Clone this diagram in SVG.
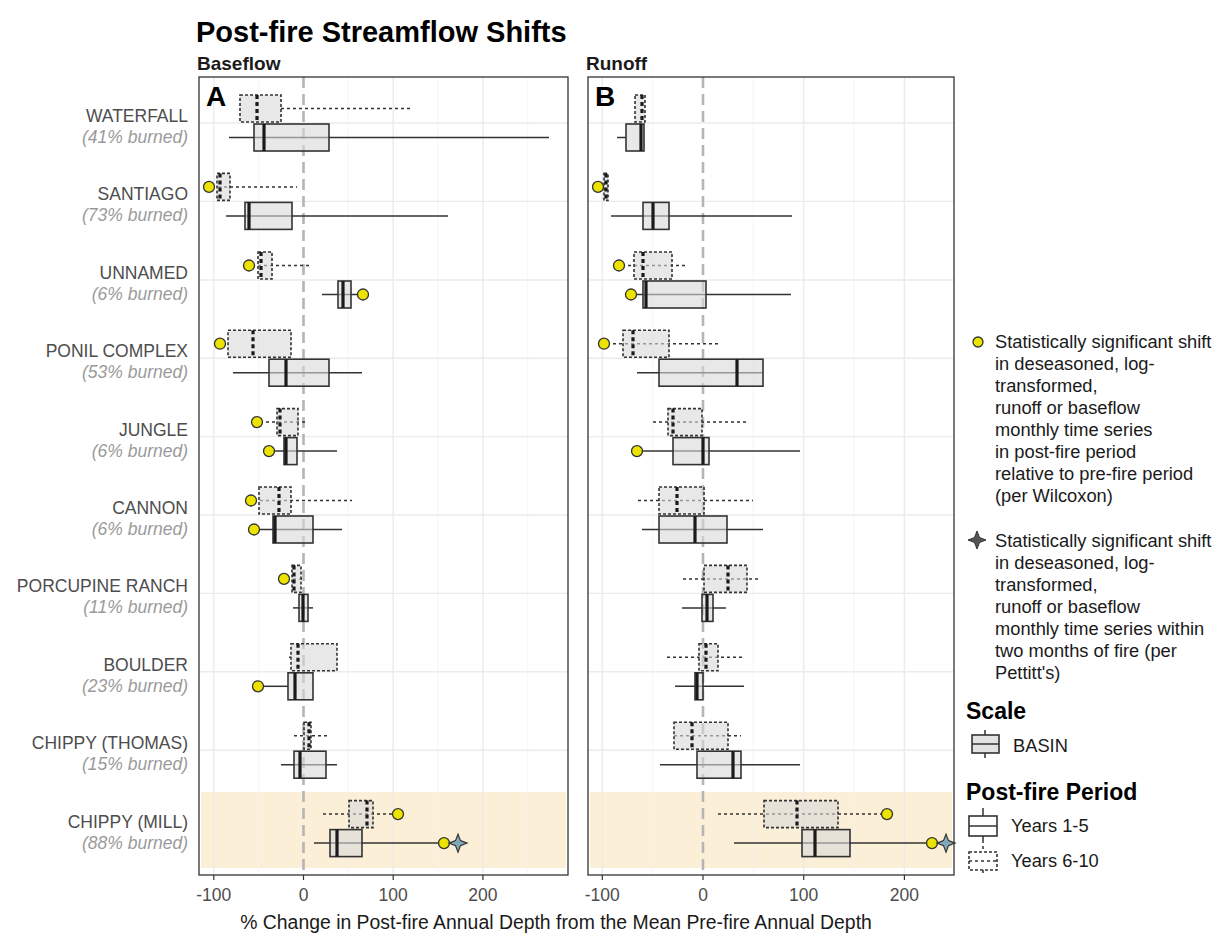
<svg xmlns="http://www.w3.org/2000/svg" width="1222" height="934" viewBox="0 0 1222 934">
<style>
text{font-family:"Liberation Sans",Arial,sans-serif}
.title{font-size:29px;font-weight:bold;fill:#000}
.strip{font-size:19px;font-weight:bold;fill:#1a1a1a}
.plab{font-size:28px;font-weight:bold;fill:#000}
.cat{font-size:17.5px;fill:#4d4d4d;text-anchor:end}
.burn{font-size:17.5px;fill:#9a9a9a;font-style:italic;text-anchor:end}
.tick{font-size:17.5px;fill:#4d4d4d;text-anchor:middle}
.xt{font-size:19.4px;fill:#1a1a1a;text-anchor:middle}
.lg{font-size:18.3px;fill:#1a1a1a}
.lgt{font-size:23px;font-weight:bold;fill:#000}
.frame{fill:none;stroke:#333;stroke-width:1.3}
.gmaj{stroke:#ebebeb;stroke-width:1.4}
.gmin{stroke:#f2f2f2;stroke-width:0.8}
.band{fill:#fcefd7}
.zero{stroke:#b5b5b5;stroke-width:2.6;stroke-dasharray:11 6}
.tk{stroke:#333;stroke-width:1.2}
.bs{fill:#d9d9d9;fill-opacity:0.6;stroke:#333;stroke-width:1.6}
.bd{fill:#d9d9d9;fill-opacity:0.6;stroke:#333;stroke-width:1.6;stroke-dasharray:3 2}
.ws{stroke:#333;stroke-width:1.5}
.wd{stroke:#333;stroke-width:1.5;stroke-dasharray:3 3}
.ms{stroke:#1a1a1a;stroke-width:3.2}
.md{stroke:#1a1a1a;stroke-width:3.2;stroke-dasharray:4 3}
.dot{fill:#ece400;stroke:#333;stroke-width:1.3}
.star{fill:#7fa9b9;stroke:#333;stroke-width:1.2}
.starlg{fill:#555;stroke:#333;stroke-width:1}
</style>
<defs>
<path id="starShape" d="M0,-9 L2.5,-2.5 L9,0 L2.5,2.5 L0,9 L-2.5,2.5 L-9,0 L-2.5,-2.5 Z"/>
</defs>
<rect width="1222" height="934" fill="#fff"/>
<text class="title" x="196" y="42">Post-fire Streamflow Shifts</text>
<text class="strip" x="197" y="70">Baseflow</text>
<text class="strip" x="586" y="70">Runoff</text>

<g id="panelA-bg">
<rect x="199" y="77" width="369" height="798" fill="#fff"/>
<rect class="band" x="201" y="792" width="365" height="76"/>
<g class="gmin"><line x1="258.6" y1="77" x2="258.6" y2="875"/><line x1="348.3" y1="77" x2="348.3" y2="875"/><line x1="438" y1="77" x2="438" y2="875"/><line x1="527.7" y1="77" x2="527.7" y2="875"/></g>
<g class="gmaj"><line x1="213.8" y1="77" x2="213.8" y2="875"/><line x1="393.2" y1="77" x2="393.2" y2="875"/><line x1="482.9" y1="77" x2="482.9" y2="875"/>
<line x1="199" y1="123" x2="568" y2="123"/><line x1="199" y1="201.4" x2="568" y2="201.4"/><line x1="199" y1="280" x2="568" y2="280"/><line x1="199" y1="358.2" x2="568" y2="358.2"/><line x1="199" y1="436.6" x2="568" y2="436.6"/><line x1="199" y1="515" x2="568" y2="515"/><line x1="199" y1="593.4" x2="568" y2="593.4"/><line x1="199" y1="671.8" x2="568" y2="671.8"/><line x1="199" y1="750.2" x2="568" y2="750.2"/></g>
<line class="zero" x1="303.5" y1="77" x2="303.5" y2="875"/>
</g>

<g id="panelB-bg">
<rect x="588" y="77" width="366" height="798" fill="#fff"/>
<rect class="band" x="590" y="792" width="362" height="76"/>
<g class="gmin"><line x1="652.6" y1="77" x2="652.6" y2="875"/><line x1="753.3" y1="77" x2="753.3" y2="875"/><line x1="854" y1="77" x2="854" y2="875"/></g>
<g class="gmaj"><line x1="602.3" y1="77" x2="602.3" y2="875"/><line x1="803.7" y1="77" x2="803.7" y2="875"/><line x1="904.4" y1="77" x2="904.4" y2="875"/>
<line x1="588" y1="123" x2="954" y2="123"/><line x1="588" y1="201.4" x2="954" y2="201.4"/><line x1="588" y1="280" x2="954" y2="280"/><line x1="588" y1="358.2" x2="954" y2="358.2"/><line x1="588" y1="436.6" x2="954" y2="436.6"/><line x1="588" y1="515" x2="954" y2="515"/><line x1="588" y1="593.4" x2="954" y2="593.4"/><line x1="588" y1="671.8" x2="954" y2="671.8"/><line x1="588" y1="750.2" x2="954" y2="750.2"/></g>
<line class="zero" x1="703" y1="77" x2="703" y2="875"/>
</g>

<g id="categories">
<text class="cat" x="188" y="122">WATERFALL</text><text class="burn" x="188" y="143">(41% burned)</text>
<text class="cat" x="188" y="200.4">SANTIAGO</text><text class="burn" x="188" y="221.4">(73% burned)</text>
<text class="cat" x="188" y="279">UNNAMED</text><text class="burn" x="188" y="300">(6% burned)</text>
<text class="cat" x="188" y="357.2">PONIL COMPLEX</text><text class="burn" x="188" y="378.2">(53% burned)</text>
<text class="cat" x="188" y="435.6">JUNGLE</text><text class="burn" x="188" y="456.6">(6% burned)</text>
<text class="cat" x="188" y="514">CANNON</text><text class="burn" x="188" y="535">(6% burned)</text>
<text class="cat" x="188" y="592.4">PORCUPINE RANCH</text><text class="burn" x="188" y="613.4">(11% burned)</text>
<text class="cat" x="188" y="670.8">BOULDER</text><text class="burn" x="188" y="691.8">(23% burned)</text>
<text class="cat" x="188" y="749.2">CHIPPY (THOMAS)</text><text class="burn" x="188" y="770.2">(15% burned)</text>
<text class="cat" x="188" y="827.6">CHIPPY (MILL)</text><text class="burn" x="188" y="848.6">(88% burned)</text>
</g>

<g id="boxes-A">
<g id="A-waterfall">
<line class="wd" x1="281" y1="108.5" x2="413" y2="108.5"/><rect class="bd" x="240" y="95" width="41" height="27"/><line class="md" x1="257" y1="95" x2="257" y2="122"/>
<line class="ws" x1="229" y1="137.5" x2="549" y2="137.5"/><rect class="bs" x="254" y="124" width="75" height="27"/><line class="ms" x1="264" y1="124" x2="264" y2="151"/>
</g>
<g id="A-santiago">
<line class="wd" x1="212" y1="186.9" x2="297" y2="186.9"/><rect class="bd" x="217" y="173.4" width="13" height="27"/><line class="md" x1="220" y1="173.4" x2="220" y2="200.4"/><circle class="dot" cx="209" cy="186.9" r="5.5"/>
<line class="ws" x1="226" y1="215.9" x2="448" y2="215.9"/><rect class="bs" x="245" y="202.4" width="47" height="27"/><line class="ms" x1="249" y1="202.4" x2="249" y2="229.4"/>
</g>
<g id="A-unnamed">
<line class="wd" x1="252" y1="265.5" x2="309" y2="265.5"/><rect class="bd" x="258" y="252" width="14" height="27"/><line class="md" x1="261" y1="252" x2="261" y2="279"/><circle class="dot" cx="249" cy="265.5" r="5.5"/>
<line class="ws" x1="322" y1="294.5" x2="360" y2="294.5"/><rect class="bs" x="338" y="281" width="13" height="27"/><line class="ms" x1="343" y1="281" x2="343" y2="308"/><circle class="dot" cx="363" cy="294.5" r="5.5"/>
</g>
<g id="A-ponil">
<rect class="bd" x="228" y="330.2" width="63" height="27"/><line class="md" x1="253" y1="330.2" x2="253" y2="357.2"/><circle class="dot" cx="220" cy="343.7" r="5.5"/>
<line class="ws" x1="233" y1="372.7" x2="362" y2="372.7"/><rect class="bs" x="269" y="359.2" width="60" height="27"/><line class="ms" x1="286" y1="359.2" x2="286" y2="386.2"/>
</g>
<g id="A-jungle">
<line class="wd" x1="260" y1="422.1" x2="305" y2="422.1"/><rect class="bd" x="277" y="408.6" width="21" height="27"/><line class="md" x1="280" y1="408.6" x2="280" y2="435.6"/><circle class="dot" cx="257" cy="422.1" r="5.5"/>
<line class="ws" x1="272" y1="451.1" x2="337" y2="451.1"/><rect class="bs" x="284" y="437.6" width="13" height="27"/><line class="ms" x1="286" y1="437.6" x2="286" y2="464.6"/><circle class="dot" cx="269" cy="451.1" r="5.5"/>
</g>
<g id="A-cannon">
<line class="wd" x1="254" y1="500.5" x2="352" y2="500.5"/><rect class="bd" x="259" y="487" width="32" height="27"/><line class="md" x1="279" y1="487" x2="279" y2="514"/><circle class="dot" cx="251" cy="500.5" r="5.5"/>
<line class="ws" x1="257" y1="529.5" x2="342" y2="529.5"/><rect class="bs" x="273" y="516" width="40" height="27"/><line class="ms" x1="275" y1="516" x2="275" y2="543"/><circle class="dot" cx="254" cy="529.5" r="5.5"/>
</g>
<g id="A-porcupine">
<line class="wd" x1="287" y1="578.9" x2="303" y2="578.9"/><rect class="bd" x="292" y="565.4" width="9" height="27"/><line class="md" x1="294" y1="565.4" x2="294" y2="592.4"/><circle class="dot" cx="284" cy="578.9" r="5.5"/>
<line class="ws" x1="293" y1="607.9" x2="313" y2="607.9"/><rect class="bs" x="299" y="594.4" width="9" height="27"/><line class="ms" x1="303" y1="594.4" x2="303" y2="621.4"/>
</g>
<g id="A-boulder">
<line class="wd" x1="289" y1="657.3" x2="291" y2="657.3"/><rect class="bd" x="291" y="643.8" width="46" height="27"/><line class="md" x1="298" y1="643.8" x2="298" y2="670.8"/>
<line class="ws" x1="261" y1="686.3" x2="288" y2="686.3"/><rect class="bs" x="288" y="672.8" width="25" height="27"/><line class="ms" x1="295" y1="672.8" x2="295" y2="699.8"/><circle class="dot" cx="258" cy="686.3" r="5.5"/>
</g>
<g id="A-chippy-thomas">
<line class="wd" x1="294" y1="735.7" x2="330" y2="735.7"/><rect class="bd" x="304" y="722.2" width="7" height="27"/><line class="md" x1="309" y1="722.2" x2="309" y2="749.2"/>
<line class="ws" x1="281" y1="764.7" x2="337" y2="764.7"/><rect class="bs" x="294" y="751.2" width="32" height="27"/><line class="ms" x1="300" y1="751.2" x2="300" y2="778.2"/>
</g>
<g id="A-chippy-mill">
<line class="wd" x1="323" y1="814.1" x2="394" y2="814.1"/><rect class="bd" x="349" y="800.6" width="24" height="27"/><line class="md" x1="367" y1="800.6" x2="367" y2="827.6"/><circle class="dot" cx="398" cy="814.1" r="5.5"/>
<line class="ws" x1="314" y1="843.1" x2="452" y2="843.1"/><rect class="bs" x="330" y="829.6" width="32" height="27"/><line class="ms" x1="337" y1="829.6" x2="337" y2="856.6"/><circle class="dot" cx="444" cy="843.1" r="5.5"/><use class="star" href="#starShape" x="458" y="843.1"/>
</g>
</g>

<g id="boxes-B">
<g id="B-waterfall">
<rect class="bd" x="635" y="95" width="10" height="27"/><line class="md" x1="642" y1="95" x2="642" y2="122"/>
<line class="ws" x1="617" y1="137.5" x2="626" y2="137.5"/><rect class="bs" x="626" y="124" width="18" height="27"/><line class="ms" x1="641" y1="124" x2="641" y2="151"/>
</g>
<g id="B-santiago">
<rect class="bd" x="604" y="173.4" width="4" height="27"/><line class="md" x1="606" y1="173.4" x2="606" y2="200.4"/><circle class="dot" cx="598" cy="186.9" r="5.5"/>
<line class="ws" x1="611" y1="215.9" x2="792" y2="215.9"/><rect class="bs" x="643" y="202.4" width="26" height="27"/><line class="ms" x1="653" y1="202.4" x2="653" y2="229.4"/>
</g>
<g id="B-unnamed">
<line class="wd" x1="622" y1="265.5" x2="686" y2="265.5"/><rect class="bd" x="634" y="252" width="38" height="27"/><line class="md" x1="643" y1="252" x2="643" y2="279"/><circle class="dot" cx="619" cy="265.5" r="5.5"/>
<line class="ws" x1="634" y1="294.5" x2="791" y2="294.5"/><rect class="bs" x="643" y="281" width="63" height="27"/><line class="ms" x1="646" y1="281" x2="646" y2="308"/><circle class="dot" cx="631" cy="294.5" r="5.5"/>
</g>
<g id="B-ponil">
<line class="wd" x1="607" y1="343.7" x2="719" y2="343.7"/><rect class="bd" x="623" y="330.2" width="46" height="27"/><line class="md" x1="633" y1="330.2" x2="633" y2="357.2"/><circle class="dot" cx="604" cy="343.7" r="5.5"/>
<line class="ws" x1="637" y1="372.7" x2="763" y2="372.7"/><rect class="bs" x="659" y="359.2" width="104" height="27"/><line class="ms" x1="737" y1="359.2" x2="737" y2="386.2"/>
</g>
<g id="B-jungle">
<line class="wd" x1="653" y1="422.1" x2="746" y2="422.1"/><rect class="bd" x="668" y="408.6" width="34" height="27"/><line class="md" x1="673" y1="408.6" x2="673" y2="435.6"/>
<line class="ws" x1="640" y1="451.1" x2="800" y2="451.1"/><rect class="bs" x="673" y="437.6" width="36" height="27"/><line class="ms" x1="703" y1="437.6" x2="703" y2="464.6"/><circle class="dot" cx="637" cy="451.1" r="5.5"/>
</g>
<g id="B-cannon">
<line class="wd" x1="638" y1="500.5" x2="753" y2="500.5"/><rect class="bd" x="659" y="487" width="45" height="27"/><line class="md" x1="677" y1="487" x2="677" y2="514"/>
<line class="ws" x1="642" y1="529.5" x2="763" y2="529.5"/><rect class="bs" x="659" y="516" width="68" height="27"/><line class="ms" x1="695" y1="516" x2="695" y2="543"/>
</g>
<g id="B-porcupine">
<line class="wd" x1="683" y1="578.9" x2="760" y2="578.9"/><rect class="bd" x="704" y="565.4" width="43" height="27"/><line class="md" x1="728" y1="565.4" x2="728" y2="592.4"/>
<line class="ws" x1="682" y1="607.9" x2="726" y2="607.9"/><rect class="bs" x="702" y="594.4" width="11" height="27"/><line class="ms" x1="707" y1="594.4" x2="707" y2="621.4"/>
</g>
<g id="B-boulder">
<line class="wd" x1="667" y1="657.3" x2="744" y2="657.3"/><rect class="bd" x="699" y="643.8" width="19" height="27"/><line class="md" x1="706" y1="643.8" x2="706" y2="670.8"/>
<line class="ws" x1="675" y1="686.3" x2="744" y2="686.3"/><rect class="bs" x="695" y="672.8" width="8" height="27"/><line class="ms" x1="697" y1="672.8" x2="697" y2="699.8"/>
</g>
<g id="B-chippy-thomas">
<line class="wd" x1="674" y1="735.7" x2="741" y2="735.7"/><rect class="bd" x="674" y="722.2" width="54" height="27"/><line class="md" x1="692" y1="722.2" x2="692" y2="749.2"/>
<line class="ws" x1="660" y1="764.7" x2="800" y2="764.7"/><rect class="bs" x="697" y="751.2" width="44" height="27"/><line class="ms" x1="733" y1="751.2" x2="733" y2="778.2"/>
</g>
<g id="B-chippy-mill">
<line class="wd" x1="718" y1="814.1" x2="883" y2="814.1"/><rect class="bd" x="764" y="800.6" width="74" height="27"/><line class="md" x1="797" y1="800.6" x2="797" y2="827.6"/><circle class="dot" cx="887" cy="814.1" r="5.5"/>
<line class="ws" x1="734" y1="843.1" x2="940" y2="843.1"/><rect class="bs" x="802" y="829.6" width="48" height="27"/><line class="ms" x1="815" y1="829.6" x2="815" y2="856.6"/><circle class="dot" cx="932" cy="843.1" r="5.5"/><use class="star" href="#starShape" x="946" y="843.1"/>
</g>
</g>

<g id="frames">
<rect class="frame" x="199" y="77" width="369" height="798"/>
<rect class="frame" x="588" y="77" width="366" height="798"/>
<text class="plab" x="206" y="106">A</text>
<text class="plab" x="595" y="106">B</text>
</g>

<g id="axes">
<g class="tk"><line x1="213.8" y1="875" x2="213.8" y2="880"/><line x1="303.5" y1="875" x2="303.5" y2="880"/><line x1="393.2" y1="875" x2="393.2" y2="880"/><line x1="482.9" y1="875" x2="482.9" y2="880"/>
<line x1="602.3" y1="875" x2="602.3" y2="880"/><line x1="703" y1="875" x2="703" y2="880"/><line x1="803.7" y1="875" x2="803.7" y2="880"/><line x1="904.4" y1="875" x2="904.4" y2="880"/></g>
<text class="tick" x="213.8" y="901">-100</text><text class="tick" x="303.5" y="901">0</text><text class="tick" x="393.2" y="901">100</text><text class="tick" x="482.9" y="901">200</text>
<text class="tick" x="602.3" y="901">-100</text><text class="tick" x="703" y="901">0</text><text class="tick" x="803.7" y="901">100</text><text class="tick" x="904.4" y="901">200</text>
<text class="xt" x="556" y="929">% Change in Post-fire Annual Depth from the Mean Pre-fire Annual Depth</text>
</g>

<g id="legend-wilcoxon">
<circle class="dot" cx="978" cy="342" r="5"/>
<text class="lg" x="995" y="348">Statistically significant shift</text>
<text class="lg" x="995" y="370">in deseasoned, log-</text>
<text class="lg" x="995" y="392">transformed,</text>
<text class="lg" x="995" y="414">runoff or baseflow</text>
<text class="lg" x="995" y="436">monthly time series</text>
<text class="lg" x="995" y="458">in post-fire period</text>
<text class="lg" x="995" y="480">relative to pre-fire period</text>
<text class="lg" x="995" y="502">(per Wilcoxon)</text>
</g>
<g id="legend-pettitt">
<use class="starlg" href="#starShape" x="977" y="540"/>
<text class="lg" x="995" y="547">Statistically significant shift</text>
<text class="lg" x="995" y="569">in deseasoned, log-</text>
<text class="lg" x="995" y="591">transformed,</text>
<text class="lg" x="995" y="613">runoff or baseflow</text>
<text class="lg" x="995" y="635">monthly time series within</text>
<text class="lg" x="995" y="657">two months of fire (per</text>
<text class="lg" x="995" y="679">Pettitt's)</text>
</g>
<g id="legend-scale">
<text class="lgt" x="966" y="719">Scale</text>
<line class="ws" x1="985" y1="730" x2="985" y2="735"/>
<line class="ws" x1="985" y1="753" x2="985" y2="758"/>
<rect x="972" y="735" width="27" height="18" fill="#e3e3e3" stroke="#333" stroke-width="1.6"/>
<line class="ws" x1="972" y1="744" x2="999" y2="744"/>
<text class="lg" x="1013" y="752">BASIN</text>
</g>
<g id="legend-period">
<text class="lgt" x="966" y="800">Post-fire Period</text>
<line class="ws" x1="983" y1="808" x2="983" y2="843"/>
<rect x="969" y="816" width="28" height="20" fill="#fff" stroke="#333" stroke-width="1.6"/>
<line class="ws" x1="969" y1="826" x2="997" y2="826"/>
<text class="lg" x="1011" y="832">Years 1-5</text>
<line class="wd" x1="983" y1="846" x2="983" y2="876"/>
<rect x="969" y="852" width="28" height="18" fill="#fff" stroke="#333" stroke-width="1.6" stroke-dasharray="3 2"/>
<line class="wd" x1="969" y1="861" x2="997" y2="861"/>
<text class="lg" x="1011" y="867">Years 6-10</text>
</g>
</svg>
